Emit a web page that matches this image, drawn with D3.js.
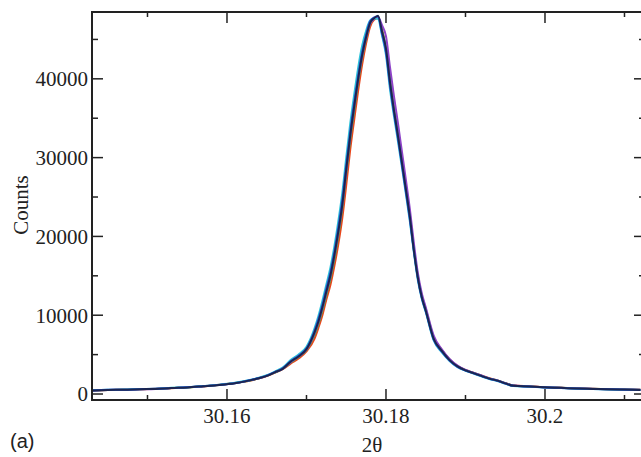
<!DOCTYPE html>
<html><head><meta charset="utf-8">
<script src="https://cdn.jsdelivr.net/npm/d3@7"></script>
<style>
html,body{margin:0;padding:0;background:#fff;}
svg{display:block;}
</style></head>
<body><svg id="c" width="641" height="457"></svg>
<script>
const twoTheta = [30.143,30.145,30.147,30.149,30.151,30.153,30.155,30.157,30.159,30.161,30.163,30.164,30.165,30.166,30.167,30.168,30.169,30.170,30.171,30.1715,30.172,30.1725,30.173,30.1735,30.174,30.1745,30.175,30.1755,30.176,30.1765,30.177,30.1775,30.178,30.1785,30.179,30.1795,30.180,30.1805,30.181,30.1815,30.182,30.1825,30.183,30.1835,30.184,30.1845,30.185,30.186,30.187,30.188,30.189,30.190,30.191,30.192,30.193,30.194,30.195,30.196,30.198,30.200,30.202,30.204,30.206,30.208,30.210,30.212];

const countsRed = [430,500,560,590,670,740,860,960,1170,1400,1720,1980,2280,2700,3150,3850,4500,5400,7000,8400,10000,12000,13800,16200,19000,22300,26500,31000,34800,38500,41800,44500,46600,47500,47700,46300,43600,39800,36200,33000,29600,26200,22700,18500,15000,12400,10700,7100,5600,4400,3550,3050,2700,2350,2000,1720,1400,1100,980,860,790,720,660,610,570,530];
const countsGreen = [470,510,550,620,640,770,830,1000,1140,1390,1750,2010,2320,2720,3180,4000,4700,5600,7500,8900,10600,12600,14600,17100,20100,23600,28000,32300,36000,39600,42700,45100,47000,47600,47800,46100,43900,39800,36200,33000,29600,26200,22800,18500,15000,12500,10800,7200,5600,4350,3550,3020,2680,2320,1980,1720,1380,1080,960,860,790,710,655,605,565,525];
const countsViolet = [440,510,550,600,650,770,850,1000,1150,1390,1760,2000,2310,2740,3200,4050,4750,5650,7700,9100,10900,12900,14900,17500,20500,23900,28300,32700,36400,39900,42900,45200,47000,47600,47800,46800,45400,41500,37800,34400,30800,27200,23500,19200,15400,12800,11000,7400,5700,4450,3600,3050,2700,2350,1980,1720,1380,1080,970,870,790,710,660,610,570,530];
const countsCyan = [480,540,560,630,670,780,870,1010,1180,1420,1800,2060,2380,2850,3350,4300,5000,6000,8300,9900,11800,13900,16000,18700,21900,25500,30000,34300,38000,41400,44200,46100,47400,47700,47600,45500,43000,38700,35300,32100,28800,25400,21900,18000,14500,12100,10400,6800,5300,4200,3400,2950,2600,2250,1900,1660,1320,1020,930,830,760,680,630,585,545,505];
const countsBlue = [460,530,530,600,660,750,850,980,1160,1370,1780,2030,2330,2780,3250,4150,4850,5800,8000,9500,11300,13400,15400,18000,21100,24600,29000,33300,37000,40400,43400,45600,47300,47800,47900,45700,43400,39200,35700,32500,29100,25700,22200,18200,14700,12200,10500,6900,5400,4250,3450,2980,2630,2280,1930,1690,1340,1040,940,840,770,690,640,595,555,515];
const countsBlack = [450,520,540,610,650,760,840,990,1150,1380,1760,2000,2300,2750,3200,4100,4750,5700,7800,9200,11000,13000,15000,17600,20600,24000,28500,32800,36500,40000,43000,45300,47100,47700,48000,46000,43800,39600,36000,32800,29400,26000,22500,18300,14800,12300,10600,7000,5500,4300,3500,3000,2650,2300,1950,1700,1350,1050,950,850,780,700,650,600,560,520];

const seriesNames = ["red","green","violet","cyan","blue","black"];
const seriesValues = [countsRed,countsGreen,countsViolet,countsCyan,countsBlue,countsBlack];
const seriesColors = ["#e8461c","#3cb44b","#8e44c8","#2ec4d8","#2a52d6","#1b2550"];

const xMajorTicks = [30.16,30.18,30.2];
const xMinorTicks = [30.15,30.17,30.19,30.21];
const yMajorTicks = [0,10000,20000,30000,40000];
const yMinorTicks = [5000,15000,25000,35000,45000];
const xDomain = [30.14302,30.21258];
const yDomain = [-760,48480];

const L=92,T=12,R=645,B=400;
const svg=d3.select("#c");
const x=d3.scaleLinear().domain(xDomain).range([L,R]);
const y=d3.scaleLinear().domain(yDomain).range([B,T]);

svg.append("defs").append("clipPath").attr("id","pc").append("rect")
  .attr("x",L).attr("y",T).attr("width",R-L).attr("height",B-T);

const line=d3.line().curve(d3.curveMonotoneX).x((d,i)=>x(twoTheta[i])).y(d=>y(d));
const plot=svg.append("g").attr("clip-path","url(#pc)");
seriesValues.forEach((vals,k)=>{
  plot.append("path").datum(vals).attr("d",line)
    .attr("fill","none").attr("stroke",seriesColors[k]).attr("stroke-width",2)
    .attr("stroke-linejoin","round");
});

const axColor="#222";
const fmtX=d=>String(+d.toFixed(2));
const ax=svg.append("g");
function xTicks(yPos,dir){
  xMajorTicks.forEach(v=>ax.append("line").attr("x1",x(v)).attr("x2",x(v)).attr("y1",yPos).attr("y2",yPos+dir*11).attr("stroke",axColor).attr("stroke-width",1.5));
  xMinorTicks.forEach(v=>ax.append("line").attr("x1",x(v)).attr("x2",x(v)).attr("y1",yPos).attr("y2",yPos+dir*5).attr("stroke",axColor).attr("stroke-width",1.5));
}
function yTicks(xPos,dir){
  yMajorTicks.forEach(v=>ax.append("line").attr("y1",y(v)).attr("y2",y(v)).attr("x1",xPos).attr("x2",xPos+dir*11).attr("stroke",axColor).attr("stroke-width",1.5));
  yMinorTicks.forEach(v=>ax.append("line").attr("y1",y(v)).attr("y2",y(v)).attr("x1",xPos).attr("x2",xPos+dir*6).attr("stroke",axColor).attr("stroke-width",1.5));
}
xTicks(B,-1); xTicks(T,1); yTicks(L,1); yTicks(R,-1);
ax.append("rect").attr("x",L).attr("y",T).attr("width",R-L).attr("height",B-T)
  .attr("fill","none").attr("stroke",axColor).attr("stroke-width",2);

const serif="'Liberation Serif','Times New Roman',serif";
xMajorTicks.forEach(v=>ax.append("text").attr("x",x(v)).attr("y",423).attr("text-anchor","middle")
  .attr("font-family",serif).attr("font-size",21).attr("fill","#222").text(fmtX(v)));
yMajorTicks.forEach(v=>ax.append("text").attr("x",88).attr("y",y(v)).attr("dy","0.35em").attr("text-anchor","end")
  .attr("font-family",serif).attr("font-size",21).attr("fill","#222").text(v));

svg.append("text").attr("x",372).attr("y",452).attr("text-anchor","middle")
  .attr("font-family",serif).attr("font-size",21).attr("fill","#222").text("2θ");
svg.append("text").attr("transform","translate(28,205) rotate(-90)").attr("text-anchor","middle")
  .attr("font-family",serif).attr("font-size",21).attr("fill","#222").text("Counts");
svg.append("text").attr("x",10).attr("y",448)
  .attr("font-family","'Liberation Sans',Arial,sans-serif").attr("font-size",20).attr("fill","#222").text("(a)");
</script></body></html>
